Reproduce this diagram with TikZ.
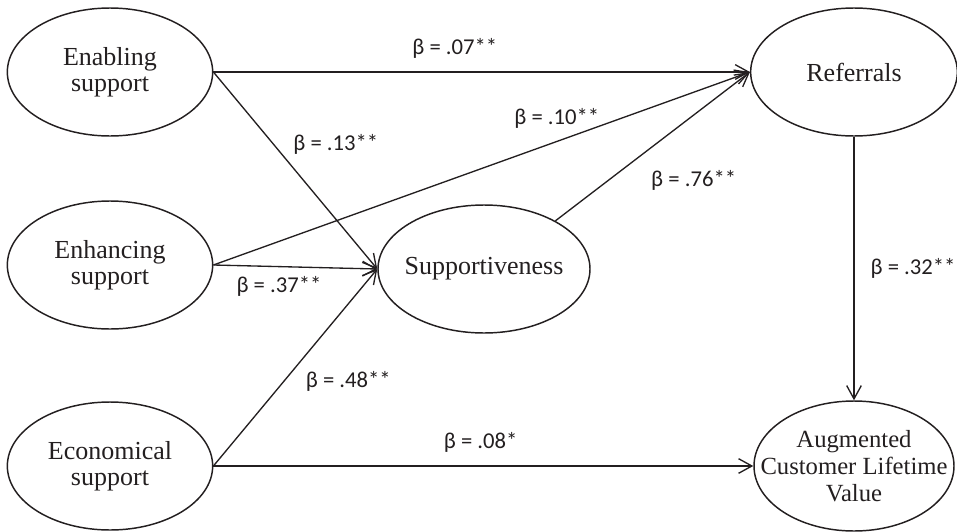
\documentclass[tikz,border=0pt]{standalone}
\usepackage{fontspec}
\setmainfont{Liberation Serif}
\newfontfamily\labfont{Carlito}
\usetikzlibrary{arrows.meta, shapes.geometric}
\definecolor{ink}{HTML}{231F20}
\tikzset{
  var/.style={ellipse, draw=ink, line width=1.1pt, text=ink, minimum height=96pt, inner sep=0pt, align=center, font=\fontsize{19.5}{19.5}\selectfont},
  vtext/.style={text=ink, align=center, inner sep=0pt, font=\fontsize{18.5}{20}\selectfont},
  eff/.style={-{Straight Barb[length=10pt, width=11pt]}, draw=ink, line width=1pt},
  blab/.style={text=ink, inner sep=2pt, font=\labfont\fontsize{17}{20}\selectfont}
}

\begin{document}
\begin{tikzpicture}[x=0.75pt, y=-0.75pt]
  \useasboundingbox (0,0) rectangle (957,532);
  % constructs
  \node[var, minimum width=154pt] (ena) at (110,72) {Enabling\\support};
  \node[var, minimum width=154pt] (enh) at (110,265) {Enhancing\\support};
  \node[var, minimum width=154pt] (eco) at (110,466) {Economical\\support};
  \node[var, minimum width=159pt, inner xsep=-3.5pt] (sup) at (484,269) {Supportiveness};
  \node[var, minimum width=155pt] (ref) at (854,72) {Referrals};
  \node[var, minimum width=150pt, minimum height=97.5pt,
        label={[vtext]center:Augmented\\Customer Lifetime\\Value}] (acl) at (854,466) {};
  % paths
  \draw[eff] (ena.east) -- node[blab, pos=0.45, above=8pt] {β = .07**} (ref.west);
  \draw[eff] (ena.east) -- node[blab, pos=0.37, right=12pt] {β = .13**} (sup.west);
  \draw[eff] (enh.east) -- node[blab, pos=0.64, above=7pt] {β = .10**} (ref.west);
  \draw[eff] (enh.east) -- node[blab, pos=0.4, below=5pt] {β = .37**} (sup.west);
  \draw[eff] (eco.east) -- node[blab, pos=0.43, right=14pt] {β = .48**} (sup.west);
  \draw[eff] (sup.34) -- node[blab, pos=0.27, right=30pt] {β = .76**} (ref.west);
  \draw[eff] (ref.south) -- node[blab, pos=0.5, right=10pt] {β = .32**} (acl.north);
  \draw[eff] (eco.east) -- node[blab, pos=0.495, above=8pt] {β = .08*} (acl.west);
\end{tikzpicture}
\end{document}
